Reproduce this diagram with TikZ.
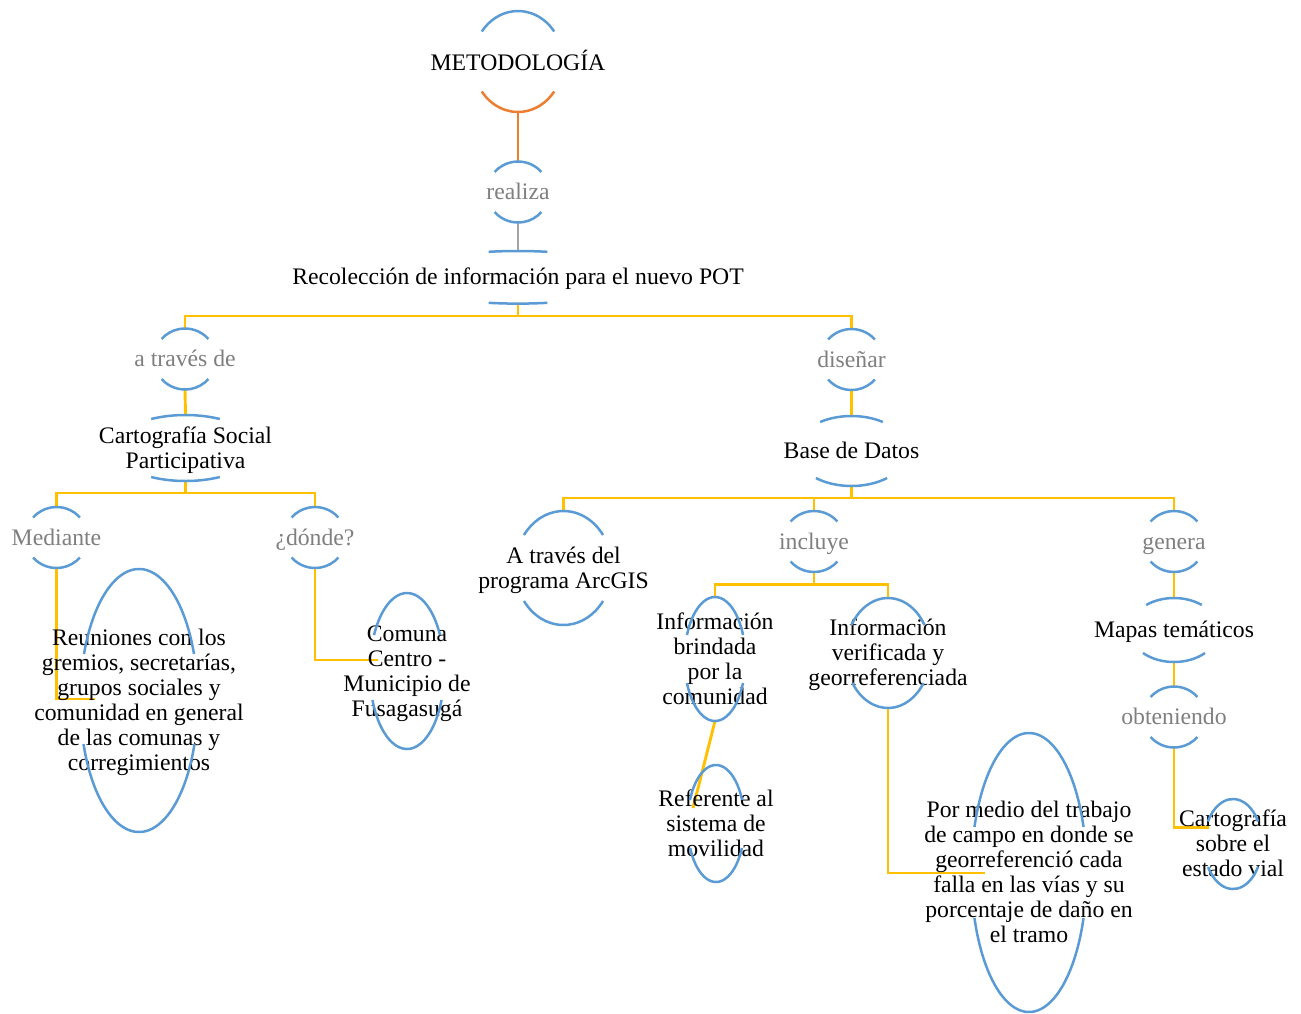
\documentclass[tikz,border=0pt]{standalone}
\usepackage{fontspec}
\setmainfont{Liberation Serif}
\usetikzlibrary{shapes.geometric}
\definecolor{arcblue}{HTML}{5B9BD5}
\definecolor{arcorange}{HTML}{ED7D31}
\definecolor{connyellow}{HTML}{FFC000}
\definecolor{conngray}{HTML}{A5A5A5}
\definecolor{linkgray}{HTML}{7F7F7F}
\pgfdeclarelayer{bg}
\pgfsetlayers{bg,main}
\tikzset{
  eshape/.style={ellipse, draw=none, inner sep=0pt, outer sep=0pt},
  arcline/.style={draw=arcblue, line width=2.5pt},
  botarc/.style={},
  conn/.style={draw=connyellow, line width=2.9pt},
  conntext/.style={inner sep=0pt, align=center, text=black, font=\fontsize{23.7}{25}\selectfont},
  linktext/.style={inner sep=0pt, align=center, text=linkgray, font=\fontsize{23.7}{25}\selectfont},
}
% #1 name, #2 cx, #3 cy, #4 a, #5 b, #6 top cut, #7 bottom cut, #8 text style, #9 text
\newcommand\enode[9]{%
  \node[eshape, minimum width=#4*2pt, minimum height=#5*2pt] (#1) at (#2,#3) {};
  \node[#8] (#1-txt) at (#2,#3+2.5) {\strut#9\strut};
  \pgfmathsetmacro\enta{asin(#6/#5)}%
  \pgfmathsetmacro\entb{asin(#7/#5)}%
  \draw[arcline] (#1.center) ++(\enta:#4pt and #5pt)
     arc[start angle=\enta, end angle=180-\enta, x radius=#4pt, y radius=#5pt];
  \draw[arcline, botarc] (#1.center) ++(180+\entb:#4pt and #5pt)
     arc[start angle=180+\entb, end angle=360-\entb, x radius=#4pt, y radius=#5pt];
}
\begin{document}
\begin{tikzpicture}[x=1pt, y=-1pt]
\useasboundingbox (0,0) rectangle (1301,1013);

% concepts and linking phrases
\begin{scope}[botarc/.style={draw=arcorange}]
\enode{met}{518}{61.5}{45}{50.5}{30}{30}{conntext}{METODOLOGÍA}
\end{scope}
\enode{realiza}{518}{192}{31}{30.5}{20}{20}{linktext}{realiza}
\enode{recol}{518}{277.3}{120}{26.3}{25.5}{25.5}{conntext}{Recolección de información para el nuevo POT}
\enode{atraves}{185}{359}{31}{30.5}{20}{20}{linktext}{a través de}
\enode{disenar}{851.5}{359.5}{31}{30.5}{20}{20}{linktext}{diseñar}
\enode{csp}{185.5}{448}{72}{33}{29}{29}{conntext}{Cartografía Social\\Participativa}
\enode{mediante}{56.5}{537.5}{31}{30.5}{20}{20}{linktext}{Mediante}
\enode{donde}{315}{537.5}{31}{30.5}{20}{20}{linktext}{¿dónde?}
\enode{reun}{139}{700.5}{58.8}{131.5}{46.5}{43.5}{conntext}{Reuniones con los\\gremios, secretarías,\\grupos sociales y\\comunidad en general\\de las comunas y\\corregimientos}
\enode{comuna}{407}{671}{37.2}{78}{36}{29}{conntext}{Comuna\\Centro -\\Municipio de\\Fusagasugá}
\enode{bd}{851.5}{451}{56}{35}{29}{27}{conntext}{Base de Datos}
\enode{arcgis}{563.5}{568}{48.5}{57}{33}{33}{conntext}{A través del\\programa ArcGIS}
\enode{incluye}{814}{541.5}{31}{30.5}{20}{20}{linktext}{incluye}
\enode{genera}{1174}{541.5}{31}{30.5}{20}{20}{linktext}{genera}
\enode{brind}{715}{659}{30.4}{62}{24}{24}{conntext}{Información\\brindada\\por la\\comunidad}
\enode{verif}{888}{653}{42.4}{55}{28}{30}{conntext}{Información\\verificada y\\georreferenciada}
\enode{refer}{716}{823.5}{28.5}{58.5}{23.5}{24.5}{conntext}{Referente al\\sistema de\\movilidad}
\enode{pormedio}{1029}{872.5}{57.7}{139.5}{45.5}{45.5}{conntext}{Por medio del trabajo\\de campo en donde se\\georreferenció cada\\falla en las vías y su\\porcentaje de daño en\\el tramo}
\enode{mapas}{1174}{630}{44.6}{32}{25}{23}{conntext}{Mapas temáticos}
\enode{obten}{1174}{717}{31}{30.5}{20}{20}{linktext}{obteniendo}
\enode{cvial}{1233}{844}{29}{45}{22.5}{23}{conntext}{Cartografía\\sobre el\\estado vial}

% junctions and free ends
\coordinate (j1) at (518,316);
\coordinate (j2) at (185.5,493);
\coordinate (j3) at (851.5,498);
\coordinate (j4) at (814,584.5);
\coordinate (reunin) at (95,699);
\coordinate (comin) at (378,660);
\coordinate (referin) at (693,808);
\coordinate (pormin) at (985,873);
\coordinate (cvin) at (1209,827.5);

\begin{pgfonlayer}{bg}
\draw[conn, draw=arcorange] (met.south) -- (realiza.north);
\draw[conn, draw=conngray] (realiza.south) -- (recol.north);
\draw[conn] (recol.south) -- (j1) -| (atraves.north);
\draw[conn] (j1) -| (disenar.north);
\draw[conn] (atraves.south) -- (csp.north);
\draw[conn] (csp.south) -- (j2) -| (mediante.north);
\draw[conn] (j2) -| (donde.north);
\draw[conn] (mediante.south) |- (reunin);
\draw[conn] (donde.south) |- (comin);
\draw[conn] (disenar.south) -- (bd.north);
\draw[conn] (bd.south) -- (j3) -| (arcgis.north);
\draw[conn] (j3) -| (incluye.north);
\draw[conn] (j3) -| (genera.north);
\draw[conn] (incluye.south) -- (j4) -| (brind.north);
\draw[conn] (j4) -| (verif.north);
\draw[conn] (brind.south) -- (referin);
\draw[conn] (verif.south) |- (pormin);
\draw[conn] (genera.south) -- (mapas.north);
\draw[conn] (mapas.south) -- (obten.north);
\draw[conn] (obten.south) |- (cvin);
\end{pgfonlayer}
\end{tikzpicture}
\end{document}
